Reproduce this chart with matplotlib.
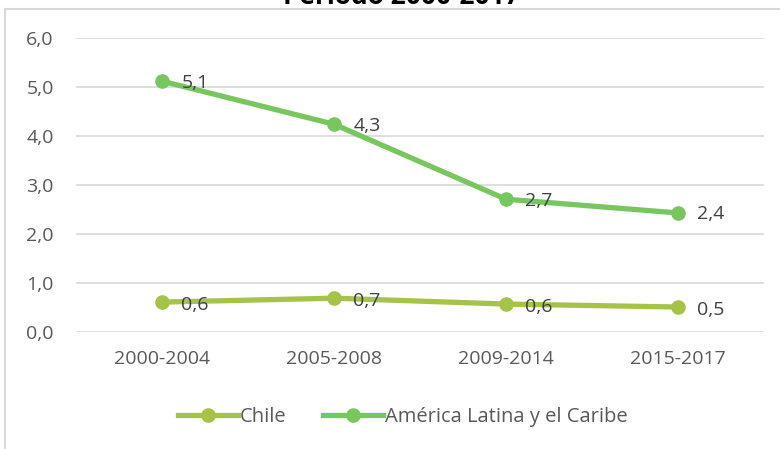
import matplotlib.pyplot as plt
from matplotlib.lines import Line2D

# Data
periodos = ['2000-2004', '2005-2008', '2009-2014', '2015-2017']
chile = [0.61, 0.69, 0.57, 0.51]
alc = [5.12, 4.24, 2.71, 2.43]
etiquetas_chile = ['0,6', '0,7', '0,6', '0,5']
etiquetas_alc = ['5,1', '4,3', '2,7', '2,4']

plt.rcParams['font.family'] = ['Open Sans', 'DejaVu Sans']
gris = '#595959'

fig = plt.figure(figsize=(7.8, 4.49), dpi=100)
ax = fig.add_axes([76 / 780, 1 - 332 / 449, 688 / 780, 294 / 449])

x = range(len(periodos))
ax.plot(x, chile, color='#A5C249', lw=3.8, marker='o', ms=9.5, label='Chile')
ax.plot(x, alc, color='#78C75E', lw=3.8, marker='o', ms=9.5, label='América Latina y el Caribe')

# Data labels
for i in x:
    ax.annotate(etiquetas_chile[i], (i, chile[i]), xytext=(14, -2), textcoords='offset points',
                va='center', ha='left', fontsize=14, color='#404040')
    ax.annotate(etiquetas_alc[i], (i, alc[i]), xytext=(14, -1), textcoords='offset points',
                va='center', ha='left', fontsize=14, color='#404040')

ax.set_xlim(-0.5, 3.5)
ax.set_ylim(0, 6)
ax.set_yticks(range(7))
ax.set_yticklabels([f'{v},0' for v in range(7)])
ax.set_xticks(list(x))
ax.set_xticklabels(periodos)
ax.tick_params(length=0, labelsize=14, colors=gris)
ax.tick_params(axis='x', pad=13)
ax.tick_params(axis='y', pad=16)
ax.grid(axis='y', color='#D9D9D9', lw=1.2)
ax.set_axisbelow(True)
for s in ax.spines.values():
    s.set_visible(False)

ax.legend(loc='center', bbox_to_anchor=(0.475, -0.29), ncol=2, frameon=False,
          fontsize=14.5, labelcolor=gris, handlelength=3, columnspacing=1.8, handletextpad=0.1)

# Frame of the chart (cropped)
fig.add_artist(Line2D([5 / 780, 5 / 780], [0, 1 - 9 / 449], color='#D9D9D9', lw=1.5))
fig.add_artist(Line2D([5 / 780, 1], [1 - 9 / 449, 1 - 9 / 449], color='#D9D9D9', lw=1.5))

# Title cut off at the top
fig.text(401 / 780, 1 - 4 / 449, 'Período 2000-2017', ha='center', va='baseline',
         fontsize=19, fontweight='bold', color='black')

plt.savefig('out.png', dpi=100)
